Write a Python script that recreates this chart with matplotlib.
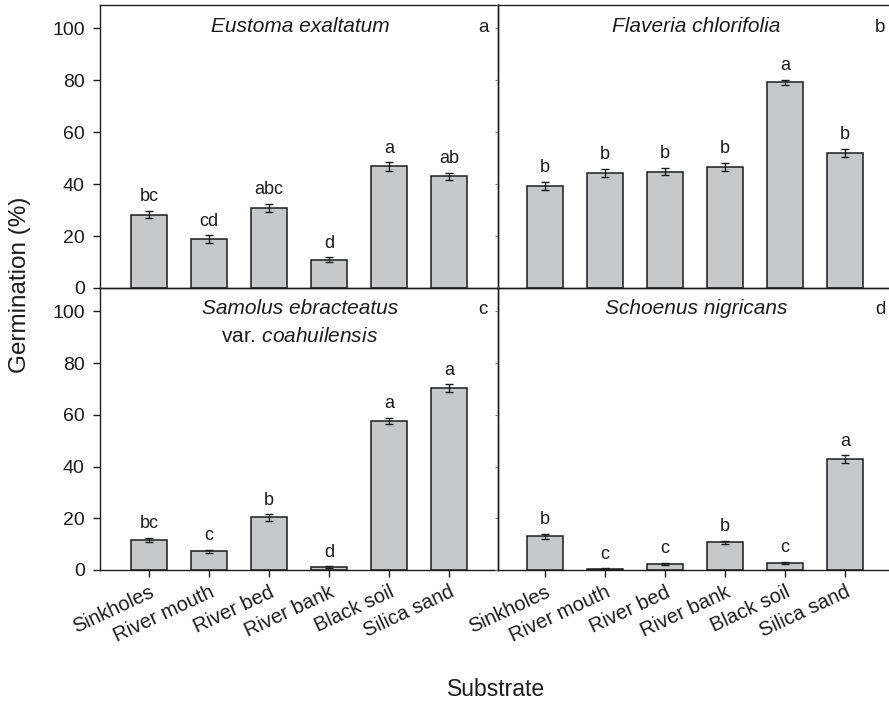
import matplotlib
matplotlib.use("Agg")
import matplotlib.pyplot as plt
import numpy as np

plt.rcParams['font.family'] = ['Liberation Sans', 'DejaVu Sans']
plt.rcParams['mathtext.fontset'] = 'custom'
plt.rcParams['mathtext.it'] = 'Liberation Sans:italic'
plt.rcParams['mathtext.rm'] = 'Liberation Sans'

substrates = ["Sinkholes", "River mouth", "River bed", "River bank", "Black soil", "Silica sand"]

eustoma_mean = [28.3, 18.8, 30.9, 10.9, 46.8, 43.0]
eustoma_se = [1.4, 1.5, 1.6, 1.0, 1.6, 1.4]
eustoma_grp = ["bc", "cd", "abc", "d", "a", "ab"]

flaveria_mean = [39.4, 44.4, 44.8, 46.6, 79.3, 52.1]
flaveria_se = [1.5, 1.5, 1.4, 1.6, 1.0, 1.6]
flaveria_grp = ["b", "b", "b", "b", "a", "b"]

samolus_mean = [11.6, 7.2, 20.3, 1.2, 57.6, 70.3]
samolus_se = [0.8, 0.6, 1.2, 0.3, 1.2, 1.5]
samolus_grp = ["bc", "c", "b", "d", "a", "a"]

schoenus_mean = [13.1, 0.4, 2.3, 10.7, 2.8, 42.9]
schoenus_se = [1.0, 0.2, 0.4, 0.7, 0.4, 1.5]
schoenus_grp = ["b", "c", "c", "b", "c", "a"]

W, H = 889, 703
fig = plt.figure(figsize=(W / 100, H / 100), dpi=100)

def px_axes(x0, y_top, x1, y_bot):
    return fig.add_axes([x0 / W, 1 - y_bot / H, (x1 - x0) / W, (y_bot - y_top) / H])

dark = "#1c1c1c"
bar_fc = "#c7c8c9"
x = np.arange(len(substrates))

panels = [
    (px_axes(100, 5, 498, 288), eustoma_mean, eustoma_se, eustoma_grp, True, False, (-0.817, 5.817)),
    (px_axes(498, 5, 896, 288), flaveria_mean, flaveria_se, flaveria_grp, False, False, (-0.783, 5.85)),
    (px_axes(100, 288, 498, 570), samolus_mean, samolus_se, samolus_grp, True, True, (-0.817, 5.817)),
    (px_axes(498, 288, 896, 570), schoenus_mean, schoenus_se, schoenus_grp, False, True, (-0.783, 5.85)),
]

for ax, mean, se, grp, show_y, show_x, xl in panels:
    ax.bar(x, mean, width=0.6, color=bar_fc, edgecolor=dark, linewidth=1.1, zorder=2)
    ax.errorbar(x, mean, yerr=se, fmt='none', ecolor=dark, elinewidth=1.0,
                capsize=3.2, capthick=1.0, zorder=3)
    for xi, m, s, g in zip(x, mean, se, grp):
        ax.annotate(g, (xi, m + s), xytext=(0, 4), textcoords='offset points',
                    ha='center', va='bottom', fontsize=13, color=dark)
    ax.set_xlim(*xl)
    ax.set_ylim(0, 109)
    for sp in ax.spines.values():
        sp.set_color(dark)
        sp.set_linewidth(1.0)
    ax.spines['right'].set_visible(show_y)
    ax.set_yticks([0, 20, 40, 60, 80, 100])
    if show_y:
        ax.tick_params(axis='y', direction='out', length=5, width=1, color=dark,
                       labelsize=14, labelcolor=dark, pad=6)
    else:
        ax.tick_params(axis='y', direction='out', length=2, width=0.8, color='#888888',
                       labelleft=False)
    ax.set_xticks(x)
    if show_x:
        ax.set_xticklabels(substrates, rotation=25, ha='right', rotation_mode='anchor',
                           fontsize=14.5, color=dark)
        ax.tick_params(axis='x', direction='out', length=5, width=1, color=dark, pad=4)
    else:
        ax.tick_params(axis='x', length=0, labelbottom=False)
    ax.set_facecolor('none')

# panel tags
for tx, ty, tag in [(483, 27, "a"), (880, 27, "b"), (483, 309, "c"), (880, 309, "d")]:
    fig.text(tx / W, 1 - ty / H, tag, ha='center', va='center', fontsize=13.5, color=dark)

# species names
title_kw = dict(ha='center', va='center', fontsize=15, color=dark)
fig.text(300 / W, 1 - 27 / H, "Eustoma exaltatum", style='italic', **title_kw)
fig.text(696 / W, 1 - 27 / H, "Flaveria chlorifolia", style='italic', **title_kw)
fig.text(300 / W, 1 - 309 / H, "Samolus ebracteatus", style='italic', **title_kw)
fig.text(300 / W, 1 - 337 / H, r"var. $\it{coahuilensis}$", **title_kw)
fig.text(696 / W, 1 - 309 / H, "Schoenus nigricans", style='italic', **title_kw)

fig.text(20 / W, 1 - 285 / H, "Germination (%)", rotation=90, ha='center', va='center',
         fontsize=17.5, color=dark)
fig.text(496 / W, 1 - 690 / H, "Substrate", ha='center', va='center', fontsize=16.5, color=dark)

fig.savefig("out.png", dpi=100)
